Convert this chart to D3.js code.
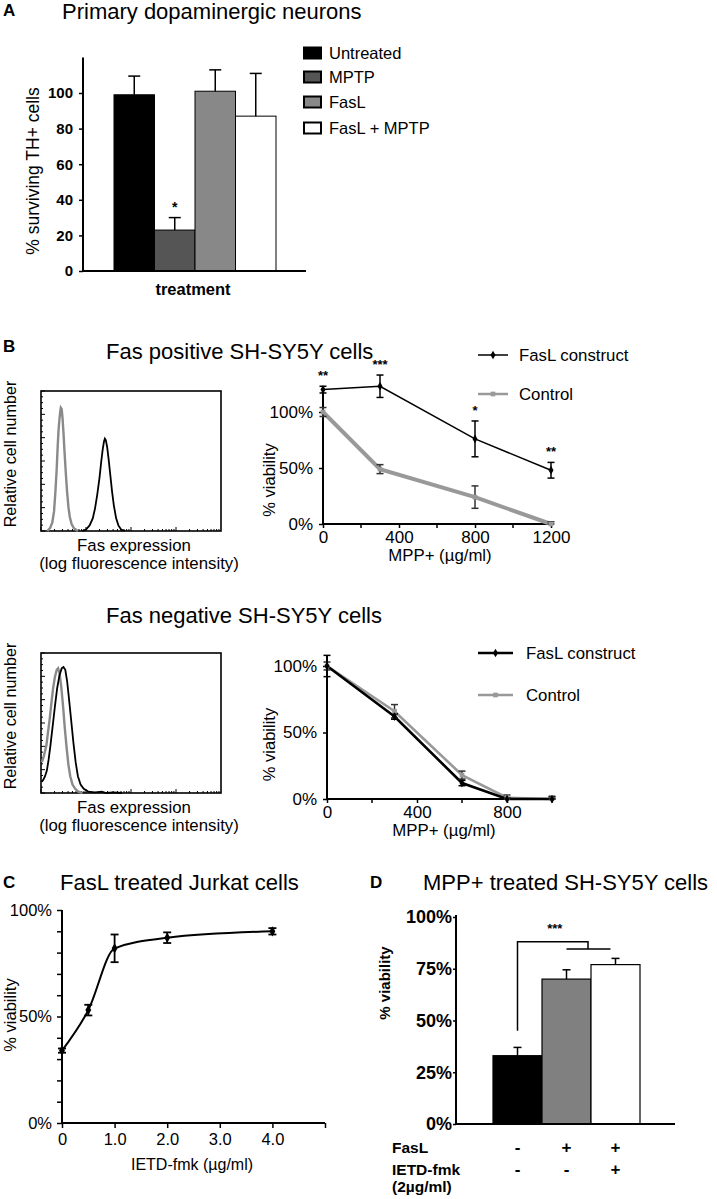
<!DOCTYPE html>
<html><head><meta charset="utf-8">
<script src="https://cdn.jsdelivr.net/npm/d3@7"></script>
<style>
body{margin:0;background:#fff}
svg{display:block}
text{font-family:"Liberation Sans",Arial,Helvetica,sans-serif;fill:#000}
</style></head><body>
<svg id="c" width="717" height="1199"></svg>
<script>
// ---------- Panel A data ----------
const aCategories = ["Untreated", "MPTP", "FasL", "FasL + MPTP"];
const aValues = [99, 23, 101, 87];
const aErrors = [10.5, 7, 12, 24];
const aStars = ["", "*", "", ""];
const aTicks = [0, 20, 40, 60, 80, 100];
const aColors = ["#000000", "#555555", "#888888", "#ffffff"];

// ---------- Panel B (Fas positive) ----------
const bPosDoses = [0, 300, 800, 1200];
const bPosFasL = [120, 123, 76, 48];
const bPosFasLErr = [3, 10, 16, 7];
const bPosCtrl = [100, 49, 24, 0];
const bPosCtrlErr = [4, 4, 10, 2];
const bPosStars = ["**", "***", "*", "**"];
const bPosXTicks = [0, 400, 800, 1200];
const bPosXMinor = [200, 600, 1000];
const bYTicks = [0, 50, 100];

// ---------- Panel B (Fas negative) ----------
const bNegDoses = [0, 300, 600, 800, 1000];
const bNegFasL = [100, 62, 12, 0, 0];
const bNegFasLErr = [8, 2, 2, 1, 2];
const bNegCtrl = [100, 66, 18, 1, 0];
const bNegCtrlErr = [3, 5, 3, 2, 1];
const bNegXTicks = [0, 400, 800];
const bNegXMinor = [200, 600, 1000];

// ---------- Histograms (log decade, % of max) ----------
const histPosCtrl = [[0.14,0],[0.2,2],[0.25,6],[0.29,14],[0.32,28],[0.35,45],[0.37,60],[0.39,72],[0.41,80],[0.43,86],[0.44,88],[0.46,87],[0.48,80],[0.5,70],[0.52,58],[0.55,42],[0.58,28],[0.61,17],[0.64,10],[0.68,5],[0.73,2],[0.82,0]];
const histPosFas = [[0.92,0],[1.0,1],[1.08,4],[1.15,9],[1.2,16],[1.25,26],[1.3,38],[1.34,50],[1.37,58],[1.4,64],[1.42,66],[1.44,65],[1.47,60],[1.5,52],[1.54,40],[1.58,28],[1.62,18],[1.67,9],[1.72,4],[1.78,1],[1.86,0]];
const histNegCtrl = [[0.02,22],[0.06,26],[0.09,30],[0.12,34],[0.15,42],[0.19,52],[0.23,64],[0.27,75],[0.31,83],[0.35,88],[0.38,89],[0.41,86],[0.45,76],[0.49,62],[0.53,46],[0.57,32],[0.61,20],[0.65,12],[0.7,6],[0.76,3],[0.83,1],[0.92,0]];
const histNegFas = [[0.02,8],[0.06,10],[0.09,12],[0.13,16],[0.17,24],[0.21,34],[0.26,48],[0.31,62],[0.36,75],[0.41,84],[0.46,89],[0.5,90],[0.54,88],[0.58,80],[0.62,68],[0.67,52],[0.72,36],[0.77,22],[0.82,12],[0.88,6],[0.95,3],[1.05,1],[1.2,0.5],[1.35,1],[1.45,0],[1.6,0.5],[1.8,0]];

// ---------- Panel C ----------
const cDoses = [0, 0.5, 1, 2, 4];
const cViab = [34, 53, 82, 87, 90];
const cErr = [1, 2.5, 6.5, 2.5, 1.5];
const cXTicks = [0, 1, 2, 3, 4, 5];
const cXLabels = ["0", "1.0", "2.0", "3.0", "4.0", ""];
const cYTicks = [0,10,20,30,40,50,60,70,80,90,100];
const cYLabels = [0, 50, 100];

// ---------- Panel D ----------
const dCategories = ["Untreated", "FasL", "FasL + IETD"];
const dValues = [33, 70, 77];
const dErrors = [4, 4.5, 3];
const dColors = ["#000000", "#808080", "#ffffff"];
const dFasL = ["-", "+", "+"];
const dIETD = ["-", "-", "+"];
const dTicks = [0, 25, 50, 75, 100];

const svg = d3.select("#c");
const FONT = 16.8;

function txt(x, y, s, opts = {}) {
  const t = svg.append("text").attr("x", x).attr("y", y).text(s)
    .attr("font-size", opts.size || FONT)
    .attr("font-weight", opts.bold ? "bold" : "normal")
    .attr("text-anchor", opts.anchor || "start");
  if (opts.rotate) {
    t.attr("x", 0).attr("y", 0).attr("transform", `translate(${x},${y}) rotate(-90)`);
  }
  if (opts.dy) t.attr("dy", opts.dy);
  if (opts.fill) t.style("fill", opts.fill);
  return t;
}

// ================= Panel A =================
{
  const y = d3.scaleLinear().domain([0, 120]).range([271, 57.4]);
  const x = d3.scaleBand().domain(aCategories).range([114, 276]).padding(0);
  const g = svg.append("g");
  txt(3, 16, "A", {bold: true, size: 17});
  txt(62, 19, "Primary dopaminergic neurons", {size: 22});
  const yAxis = d3.axisLeft(y).tickValues(aTicks).tickSize(4).tickPadding(6);
  const ga = g.append("g").attr("transform", "translate(83,0)").call(yAxis);
  ga.select(".domain").attr("stroke-width", 2).attr("d", `M0,${y(120)}V${y(0)}`);
  ga.selectAll(".tick line").attr("stroke-width", 1.5);
  ga.selectAll(".tick text").attr("font-size", 15).attr("font-weight", "bold")
    .attr("font-family", '"Liberation Sans",Arial,sans-serif').style("fill", "#000");
  g.selectAll("rect.bar").data(aCategories).join("rect")
    .attr("x", d => x(d)).attr("width", x.bandwidth())
    .attr("y", (d, i) => y(aValues[i])).attr("height", (d, i) => y(0) - y(aValues[i]))
    .attr("fill", (d, i) => aColors[i]).attr("stroke", "#000").attr("stroke-width", 1);
  aCategories.forEach((c, i) => {
    const cx = x(c) + x.bandwidth() / 2;
    g.append("line").attr("x1", cx).attr("x2", cx).attr("y1", y(aValues[i])).attr("y2", y(aValues[i] + aErrors[i])).attr("stroke", "#000").attr("stroke-width", 1.5);
    g.append("line").attr("x1", cx - 6).attr("x2", cx + 6).attr("y1", y(aValues[i] + aErrors[i])).attr("y2", y(aValues[i] + aErrors[i])).attr("stroke", "#000").attr("stroke-width", 1.5);
    if (aStars[i]) txt(cx, y(aValues[i] + aErrors[i]) - 6, aStars[i], {anchor: "middle", bold: true, size: 14});
  });
  g.append("line").attr("x1", 83).attr("x2", 306).attr("y1", y(0)).attr("y2", y(0)).attr("stroke", "#000").attr("stroke-width", 2);
  txt(39, 171, "% surviving TH+ cells", {rotate: true, anchor: "middle", size: 17.5});
  txt(193, 295, "treatment", {anchor: "middle", bold: true, size: 16.5});
  const ly = [53, 77, 102, 128];
  aCategories.forEach((c, i) => {
    g.append("rect").attr("x", 304).attr("y", ly[i] - 5.5).attr("width", 17).attr("height", 11)
      .attr("fill", aColors[i]).attr("stroke", "#000").attr("stroke-width", 2);
    txt(329, ly[i], c, {dy: "0.35em", size: 16.5});
  });
}

// ================= Histograms =================
function histogram(top, bottom, ctrl, fas) {
  const x = d3.scaleLinear().domain([0, 4]).range([41, 221]);
  const y = d3.scaleLinear().domain([0, 100]).range([bottom, top]);
  const g = svg.append("g");
  g.append("rect").attr("x", 41).attr("y", top).attr("width", 180).attr("height", bottom - top)
    .attr("fill", "none").attr("stroke", "#000").attr("stroke-width", 1.6);
  for (let dec = 0; dec < 4; dec++) {
    for (let k = 1; k <= 9; k++) {
      const v = dec + Math.log10(k);
      g.append("line").attr("x1", x(v)).attr("x2", x(v)).attr("y1", bottom).attr("y2", bottom - (k === 1 ? 4 : 2)).attr("stroke", "#000").attr("stroke-width", 1);
    }
  }
  for (let i = 0; i <= 24; i++) {
    const yy = top + (bottom - top) * i / 24;
    g.append("line").attr("x1", 41).attr("x2", 41 + (i % 4 === 0 ? 4 : 2)).attr("y1", yy).attr("y2", yy).attr("stroke", "#000").attr("stroke-width", 1);
  }
  const line = d3.line().x(d => x(d[0])).y(d => y(d[1])).curve(d3.curveLinear);
  g.append("path").datum(ctrl).attr("d", line).attr("fill", "none").attr("stroke", "#8a8a8a").attr("stroke-width", 2.4);
  g.append("path").datum(fas).attr("d", line).attr("fill", "none").attr("stroke", "#000").attr("stroke-width", 1.8);
  txt(16, (top + bottom) / 2 - 7, "Relative cell number", {rotate: true, anchor: "middle", size: 16.2});
  txt(134, bottom + 20, "Fas expression", {anchor: "middle", size: 16.8});
  txt(139, bottom + 38, "(log fluorescence intensity)", {anchor: "middle", size: 16.8});
}

// ================= Line charts B =================
function lineChart(cfg) {
  const x = d3.scaleLinear().domain([0, cfg.xMax]).range([cfg.x0, cfg.x1]);
  const y = d3.scaleLinear().domain([0, 100]).range([cfg.y0, cfg.y100]);
  const g = svg.append("g");
  const yAxis = d3.axisLeft(y).tickValues(bYTicks).tickFormat(d => d + "%").tickSize(4).tickPadding(6);
  const ga = g.append("g").attr("transform", `translate(${cfg.x0},0)`).call(yAxis);
  ga.select(".domain").attr("stroke-width", 2).attr("d", `M0,${y(cfg.yTop)}V${y(0)}`);
  ga.selectAll(".tick text").attr("font-size", 17).attr("font-family", '"Liberation Sans",Arial,sans-serif').style("fill", "#000");
  ga.selectAll(".tick line").attr("stroke-width", 1.5);
  const xAxis = d3.axisBottom(x).tickValues(cfg.xTicks).tickFormat(d3.format("d")).tickSize(4).tickPadding(3);
  const gx = g.append("g").attr("transform", `translate(0,${cfg.y0})`).call(xAxis);
  gx.select(".domain").attr("stroke-width", 2).attr("d", `M${cfg.x0},0H${cfg.x1}`);
  gx.selectAll(".tick text").attr("font-size", 17).attr("font-family", '"Liberation Sans",Arial,sans-serif').style("fill", "#000");
  gx.selectAll(".tick line").attr("stroke-width", 1.5);
  cfg.xMinor.forEach(v => g.append("line").attr("x1", x(v)).attr("x2", x(v)).attr("y1", cfg.y0).attr("y2", cfg.y0 + 4).attr("stroke", "#000").attr("stroke-width", 1.5));

  const line = d3.line().x(d => x(d[0])).y(d => y(d[1]));
  const ctrlPts = cfg.doses.map((d, i) => [d, cfg.ctrl[i]]);
  const fasPts = cfg.doses.map((d, i) => [d, cfg.fas[i]]);
  g.append("path").datum(ctrlPts).attr("d", line).attr("fill", "none").attr("stroke", "#999").attr("stroke-width", cfg.ctrlW);
  g.append("path").datum(fasPts).attr("d", line).attr("fill", "none").attr("stroke", "#000").attr("stroke-width", cfg.fasW);
  function err(pts, errs, col) {
    pts.forEach((p, i) => {
      const cx = x(p[0]), lo = y(Math.max(0, p[1] - errs[i])), hi = y(p[1] + errs[i]);
      g.append("line").attr("x1", cx).attr("x2", cx).attr("y1", lo).attr("y2", hi).attr("stroke", col).attr("stroke-width", 1.5);
      [lo, hi].forEach(yy => g.append("line").attr("x1", cx - 3.5).attr("x2", cx + 3.5).attr("y1", yy).attr("y2", yy).attr("stroke", col).attr("stroke-width", 1.5));
    });
  }
  err(ctrlPts, cfg.ctrlErr, "#333");
  err(fasPts, cfg.fasErr, "#000");
  g.selectAll(null).data(ctrlPts).join("path").attr("d", d3.symbol(d3.symbolSquare, 22))
    .attr("transform", d => `translate(${x(d[0])},${y(d[1])})`).attr("fill", "#999");
  g.selectAll(null).data(fasPts).join("path").attr("d", d3.symbol(d3.symbolDiamond, 22))
    .attr("transform", d => `translate(${x(d[0])},${y(d[1])})`).attr("fill", "#000");
  if (cfg.stars) fasPts.forEach((p, i) => txt(x(p[0]), y(p[1] + cfg.fasErr[i]) - 6, cfg.stars[i], {anchor: "middle", bold: true, size: 13}));
  g.append("line").attr("x1", cfg.lx0).attr("x2", cfg.lx1).attr("y1", cfg.ly1).attr("y2", cfg.ly1).attr("stroke", "#000").attr("stroke-width", cfg.fasW);
  g.append("path").attr("d", d3.symbol(d3.symbolDiamond, 22)).attr("transform", `translate(${(cfg.lx0 + cfg.lx1) / 2},${cfg.ly1})`);
  txt(cfg.ltx, cfg.ly1, "FasL construct", {dy: "0.35em", size: 16.8});
  g.append("line").attr("x1", cfg.lx0).attr("x2", cfg.lx1).attr("y1", cfg.ly2).attr("y2", cfg.ly2).attr("stroke", "#999").attr("stroke-width", 2.5);
  g.append("path").attr("d", d3.symbol(d3.symbolSquare, 22)).attr("transform", `translate(${(cfg.lx0 + cfg.lx1) / 2},${cfg.ly2})`).attr("fill", "#999");
  txt(cfg.ltx, cfg.ly2, "Control", {dy: "0.35em", size: 16.8});
  txt(275, (cfg.y0 + cfg.y100) / 2 + 12, "% viability", {rotate: true, anchor: "middle", size: 16.5});
  txt(cfg.xLabelX, cfg.y0 + 37, "MPP+ (\u00b5g/ml)", {anchor: "middle", size: 16.8});
}

txt(3, 352, "B", {bold: true, size: 17});
txt(106, 359, "Fas positive SH-SY5Y cells", {size: 22});
histogram(391, 531, histPosCtrl, histPosFas);
lineChart({x0: 323, x1: 551, xMax: 1200, y0: 524, y100: 412, yTop: 123,
  xTicks: bPosXTicks, xMinor: bPosXMinor, doses: bPosDoses,
  fas: bPosFasL, fasErr: bPosFasLErr, ctrl: bPosCtrl, ctrlErr: bPosCtrlErr,
  fasW: 1.5, ctrlW: 4, stars: bPosStars,
  lx0: 478, lx1: 508, ly1: 355, ly2: 394, ltx: 519, xLabelX: 440});

txt(106, 623, "Fas negative SH-SY5Y cells", {size: 22});
histogram(653, 793, histNegCtrl, histNegFas);
lineChart({x0: 327, x1: 552, xMax: 1000, y0: 799, y100: 666, yTop: 108,
  xTicks: bNegXTicks, xMinor: bNegXMinor, doses: bNegDoses,
  fas: bNegFasL, fasErr: bNegFasLErr, ctrl: bNegCtrl, ctrlErr: bNegCtrlErr,
  fasW: 2.6, ctrlW: 2.6, stars: null,
  lx0: 478, lx1: 513, ly1: 653, ly2: 695, ltx: 526, xLabelX: 444});

// ================= Panel C =================
{
  const x = d3.scaleLinear().domain([0, 5]).range([62, 325]);
  const y = d3.scaleLinear().domain([0, 100]).range([1123, 910]);
  const g = svg.append("g");
  txt(3, 888, "C", {bold: true, size: 17});
  txt(60, 890, "FasL treated Jurkat cells", {size: 22});
  const yAxis = d3.axisLeft(y).tickValues(cYTicks).tickFormat(d => cYLabels.includes(d) ? d + "%" : "").tickSize(5).tickPadding(5);
  const ga = g.append("g").attr("transform", "translate(62,0)").call(yAxis);
  ga.select(".domain").attr("stroke-width", 2).attr("d", `M0,${y(100)}V${y(0)}`);
  ga.selectAll(".tick line").attr("stroke-width", 1.5);
  ga.selectAll(".tick text").attr("font-size", 16.5).attr("font-family", '"Liberation Sans",Arial,sans-serif').style("fill", "#000");
  const xAxis = d3.axisBottom(x).tickValues(cXTicks).tickFormat((d, i) => cXLabels[i]).tickSize(5).tickPadding(5);
  const gx = g.append("g").attr("transform", `translate(0,${y(0)})`).call(xAxis);
  gx.select(".domain").attr("stroke-width", 2).attr("d", `M${x(0)},0H${x(5)}`);
  gx.selectAll(".tick line").attr("stroke-width", 1.5);
  gx.selectAll(".tick text").attr("font-size", 16.5).attr("font-family", '"Liberation Sans",Arial,sans-serif').style("fill", "#000");
  const pts = cDoses.map((d, i) => [d, cViab[i]]);
  const line = d3.line().x(d => x(d[0])).y(d => y(d[1])).curve(d3.curveMonotoneX);
  g.append("path").datum(pts).attr("d", line).attr("fill", "none").attr("stroke", "#000").attr("stroke-width", 2);
  pts.forEach((p, i) => {
    const cx = x(p[0]), lo = y(p[1] - cErr[i]), hi = y(p[1] + cErr[i]);
    g.append("line").attr("x1", cx).attr("x2", cx).attr("y1", lo).attr("y2", hi).attr("stroke", "#000").attr("stroke-width", 1.8);
    [lo, hi].forEach(yy => g.append("line").attr("x1", cx - 4).attr("x2", cx + 4).attr("y1", yy).attr("y2", yy).attr("stroke", "#000").attr("stroke-width", 1.8));
  });
  g.selectAll(null).data(pts).join("path").attr("d", d3.symbol(d3.symbolDiamond, 30))
    .attr("transform", d => `translate(${x(d[0])},${y(d[1])})`).attr("fill", "#000");
  txt(16, 1015, "% viability", {rotate: true, anchor: "middle", size: 16.5});
  txt(192, 1170, "IETD-fmk (\u00b5g/ml)", {anchor: "middle", size: 16});
}

// ================= Panel D =================
{
  const y = d3.scaleLinear().domain([0, 100]).range([1124, 917]);
  const x = d3.scaleBand().domain(dCategories).range([493, 640]).padding(0);
  const g = svg.append("g");
  txt(370, 888, "D", {bold: true, size: 17});
  txt(423, 890, "MPP+ treated SH-SY5Y cells", {size: 22});
  const yAxis = d3.axisLeft(y).tickValues(dTicks).tickFormat(d => d + "%").tickSize(3).tickPadding(1);
  const ga = g.append("g").attr("transform", "translate(456,0)").call(yAxis);
  ga.select(".domain").attr("stroke-width", 2).attr("d", `M0,${y(100) - 2}V${y(0)}`);
  ga.selectAll(".tick line").attr("stroke-width", 1.5);
  ga.selectAll(".tick text").attr("font-size", 18).attr("font-weight", "bold").attr("font-family", '"Liberation Sans",Arial,sans-serif').style("fill", "#000");
  g.selectAll("rect.bar").data(dCategories).join("rect")
    .attr("x", d => x(d)).attr("width", x.bandwidth())
    .attr("y", (d, i) => y(dValues[i])).attr("height", (d, i) => y(0) - y(dValues[i]))
    .attr("fill", (d, i) => dColors[i]).attr("stroke", "#000").attr("stroke-width", 1.2);
  dCategories.forEach((c, i) => {
    const cx = x(c) + x.bandwidth() / 2;
    const top = y(dValues[i] + dErrors[i]);
    g.append("line").attr("x1", cx).attr("x2", cx).attr("y1", y(dValues[i])).attr("y2", top).attr("stroke", "#000").attr("stroke-width", 1.5);
    g.append("line").attr("x1", cx - 4).attr("x2", cx + 4).attr("y1", top).attr("y2", top).attr("stroke", "#000").attr("stroke-width", 1.5);
    txt(cx, 1153, dFasL[i], {anchor: "middle", bold: true, size: 17});
    txt(cx, 1175, dIETD[i], {anchor: "middle", bold: true, size: 17});
  });
  g.append("line").attr("x1", 456).attr("x2", 675).attr("y1", y(0)).attr("y2", y(0)).attr("stroke", "#000").attr("stroke-width", 2);
  const c0 = x(dCategories[0]) + x.bandwidth() / 2;
  const c1 = x(dCategories[1]) + x.bandwidth() / 2;
  const c2 = x(dCategories[2]) + x.bandwidth() / 2;
  const mid = (c1 + c2) / 2 - 3;
  g.append("path").attr("d", `M${c0},${y(45)}V${y(88)}H${mid}V${y(84.5)}`).attr("fill", "none").attr("stroke", "#000").attr("stroke-width", 1.5);
  g.append("line").attr("x1", c1).attr("x2", c2 - 5).attr("y1", y(84.5)).attr("y2", y(84.5)).attr("stroke", "#000").attr("stroke-width", 1.5);
  txt((c0 + mid) / 2 + 2, y(92.5), "***", {anchor: "middle", bold: true, size: 13});
  txt(390, 983, "% viability", {rotate: true, anchor: "middle", bold: true, size: 15});
  txt(392, 1153, "FasL", {bold: true, size: 15.5});
  txt(392, 1175, "IETD-fmk", {bold: true, size: 15.5});
  txt(392, 1192, "(2\u00b5g/ml)", {bold: true, size: 15.5});
}
</script>
</body></html>
